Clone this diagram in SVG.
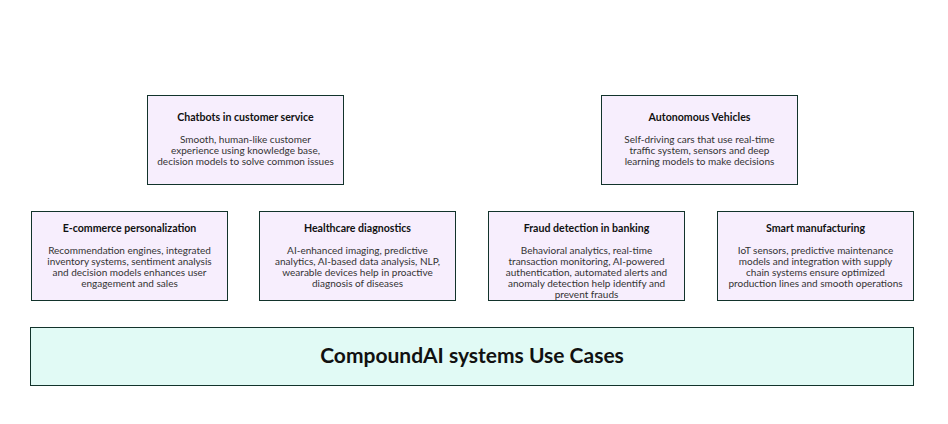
<svg xmlns="http://www.w3.org/2000/svg" width="948" height="424" viewBox="0 0 948 424">
<style>
.n{fill:#f7eefd;stroke:#12332b;stroke-width:1}
.t{font-family:Lato,"Liberation Sans",sans-serif;font-size:10.6px;font-weight:bold;fill:#111;text-anchor:middle}
.b{font-family:Lato,"Liberation Sans",sans-serif;font-size:10px;fill:#333;text-anchor:middle}
</style>
<rect width="948" height="424" fill="#fff"/>
<g id="base"><rect x="30.5" y="327.5" width="883" height="58" fill="#e1faf5" stroke="#12332b"/>
<text x="472" y="363" font-family="Lato,'Liberation Sans',sans-serif" font-size="21" font-weight="bold" text-anchor="middle" fill="#111">CompoundAI systems Use Cases</text></g>
<g id="chatbots"><rect class="n" x="147.5" y="95.5" width="196" height="89"/>
<text class="t" x="245.5" y="121">Chatbots in customer service</text>
<text class="b" x="245.5" y="143">Smooth, human-like customer</text>
<text class="b" x="245.5" y="154">experience using knowledge base,</text>
<text class="b" x="245.5" y="165">decision models to solve common issues</text></g>
<g id="auto"><rect class="n" x="601.5" y="95.5" width="196" height="89"/>
<text class="t" x="699.5" y="121">Autonomous Vehicles</text>
<text class="b" x="699.5" y="143">Self-driving cars that use real-time</text>
<text class="b" x="699.5" y="154">traffic system, sensors and deep</text>
<text class="b" x="699.5" y="165">learning models to make decisions</text></g>
<g id="ecom"><rect class="n" x="31.5" y="211.5" width="196" height="89"/>
<text class="t" x="129.5" y="232">E-commerce personalization</text>
<text class="b" x="129.5" y="254">Recommendation engines, integrated</text>
<text class="b" x="129.5" y="265">inventory systems, sentiment analysis</text>
<text class="b" x="129.5" y="276">and decision models enhances user</text>
<text class="b" x="129.5" y="287">engagement and sales</text></g>
<g id="health"><rect class="n" x="259.5" y="211.5" width="196" height="89"/>
<text class="t" x="357.5" y="232">Healthcare diagnostics</text>
<text class="b" x="357.5" y="254">AI-enhanced imaging, predictive</text>
<text class="b" x="357.5" y="265">analytics, AI-based data analysis, NLP,</text>
<text class="b" x="357.5" y="276">wearable devices help in proactive</text>
<text class="b" x="357.5" y="287">diagnosis of diseases</text></g>
<g id="fraud"><rect class="n" x="488.5" y="211.5" width="196" height="89"/>
<text class="t" x="586.5" y="232">Fraud detection in banking</text>
<text class="b" x="586.5" y="254">Behavioral analytics, real-time</text>
<text class="b" x="586.5" y="265">transaction monitoring, AI-powered</text>
<text class="b" x="586.5" y="276">authentication, automated alerts and</text>
<text class="b" x="586.5" y="287">anomaly detection help identify and</text>
<text class="b" x="586.5" y="298">prevent frauds</text></g>
<g id="smart"><rect class="n" x="717.5" y="211.5" width="196" height="89"/>
<text class="t" x="815.5" y="232">Smart manufacturing</text>
<text class="b" x="815.5" y="254">IoT sensors, predictive maintenance</text>
<text class="b" x="815.5" y="265">models and integration with supply</text>
<text class="b" x="815.5" y="276">chain systems ensure optimized</text>
<text class="b" x="815.5" y="287">production lines and smooth operations</text></g>
<g id="connectors"/>
</svg>
